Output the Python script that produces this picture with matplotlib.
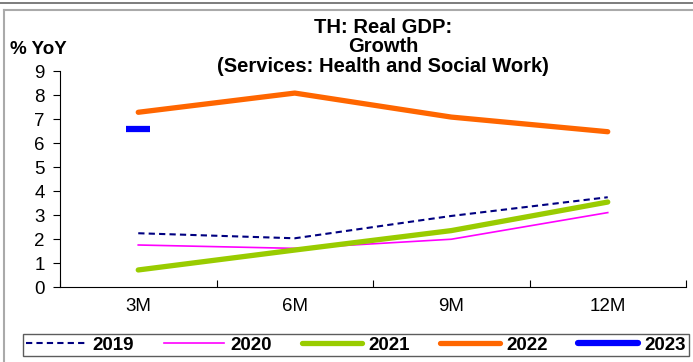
import matplotlib.pyplot as plt
from matplotlib.lines import Line2D

plt.rcParams['font.family'] = ['Liberation Sans', 'DejaVu Sans']

# data
periods = ["3M", "6M", "9M", "12M"]
y2019 = [2.24, 2.03, 2.96, 3.74]
y2020 = [1.75, 1.61, 1.99, 3.10]
y2021 = [0.71, 1.54, 2.35, 3.54]
y2022 = [7.28, 8.08, 7.08, 6.47]
y2023 = [6.57]

fig = plt.figure(figsize=(6.93, 3.62), dpi=100, facecolor="white")
ax = fig.add_axes([60 / 693, 1 - 287 / 362, 626 / 693, 216 / 362])

x = list(range(len(periods)))
ax.plot(x, y2019, color="#000080", lw=1.5, ls=(0, (3, 2)))
ax.plot(x, y2020, color="#FF00FF", lw=1.2)
ax.plot(x, y2021, color="#99CC00", lw=3.8, solid_capstyle="round")
ax.plot(x, y2022, color="#FF6600", lw=3.8, solid_capstyle="round")
ax.plot(x[:1], y2023, color="#0000FF", marker="_", ms=17, mew=4.5, ls="none")

ax.set_xlim(-0.5, 3.5)
ax.set_ylim(0, 9)
ax.set_yticks(range(0, 10))
ax.set_xticks([i - 0.5 for i in range(len(periods) + 1)])
ax.set_xticklabels([])
ax.set_xticks(x, minor=True)
ax.set_xticklabels(periods, minor=True)
ax.tick_params(axis="x", which="minor", length=0, pad=8, labelsize=13.5)
ax.tick_params(axis="x", which="major", length=5, direction="in")
ax.tick_params(axis="y", length=5, labelsize=13.5, pad=6)
ax.spines["top"].set_visible(False)
ax.spines["right"].set_visible(False)
ax.spines["left"].set_linewidth(0.8)
ax.spines["bottom"].set_linewidth(0.8)

fig.text(383 / 693, 1 - 47 / 362, "TH: Real GDP:\nGrowth\n(Services: Health and Social Work)",
         ha="center", va="center", fontsize=14.5, fontweight="bold", linespacing=1.05)
fig.text(10 / 693, 1 - 49 / 362, "% YoY", ha="left", va="center", fontsize=13.5, fontweight="bold")

# frame lines
fig.add_artist(Line2D([0, 1], [1 - 3 / 362, 1 - 3 / 362], color="#666666", lw=1.2, transform=fig.transFigure))
fig.add_artist(Line2D([4 / 693, 1], [1 - 10 / 362, 1 - 10 / 362], color="#AAAAAA", lw=1.5, transform=fig.transFigure))
fig.add_artist(Line2D([4 / 693, 4 / 693], [0, 1 - 10 / 362], color="#AAAAAA", lw=1.5, transform=fig.transFigure))

handles = [
    Line2D([], [], color="#000080", lw=1.5, ls=(0, (3, 2))),
    Line2D([], [], color="#FF00FF", lw=1.2),
    Line2D([], [], color="#99CC00", lw=3.8, solid_capstyle="round"),
    Line2D([], [], color="#FF6600", lw=3.8, solid_capstyle="round"),
    Line2D([], [], color="#0000FF", lw=4.5, solid_capstyle="round"),
]
leg = fig.legend(handles, ["2019", "2020", "2021", "2022", "2023"], ncol=5,
                 loc="center", bbox_to_anchor=(356 / 693, 1 - 345 / 362),
                 frameon=True, fancybox=False, edgecolor="#333333",
                 prop={"weight": "bold", "size": 13.5}, handlelength=3.2,
                 handletextpad=0.35, columnspacing=1.6, borderpad=0.15,
                 borderaxespad=0)
leg.get_frame().set_linewidth(1.0)

fig.savefig("out.png", dpi=100, facecolor="white")
